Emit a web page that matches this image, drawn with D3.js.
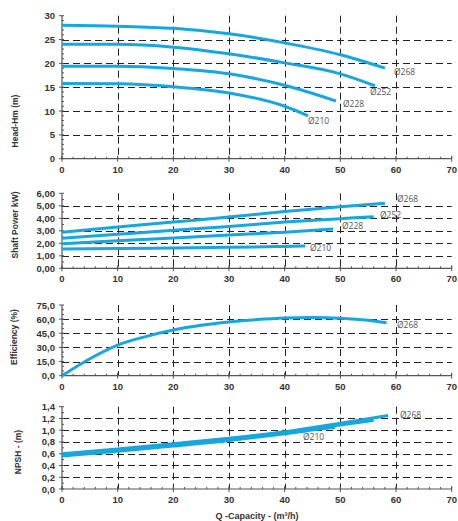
<!DOCTYPE html>
<html>
<head>
<meta charset="UTF-8">
<script src="https://cdn.jsdelivr.net/npm/d3@7"></script>
<style>
  body { margin: 0; background: #fff; }
  .tick-label { font-family: 'Liberation Sans', Arial, sans-serif; font-weight: bold; font-size: 9.5px; fill: #333; }
  .axis-title { font-family: 'Liberation Sans', Arial, sans-serif; font-weight: bold; font-size: 8.5px; fill: #333; }
  .curve-label { font-family: 'Open Sans', sans-serif; font-size: 8.5px; fill: #555; }
</style>
</head>
<body>
<svg id="chart" width="458" height="521"></svg>
<script>
// ---- data ----
var diameters = ["Ø268", "Ø252", "Ø228", "Ø210"];

var headData = [
  [[0, 28], [10, 27.8], [20, 27.35], [30, 26.2], [40, 24.3], [50, 21.8], [58, 19.0]],
  [[0, 24], [10, 24], [20, 23.4], [30, 22.0], [40, 20.1], [50, 17.8], [56.2, 15.3]],
  [[0, 19.4], [10, 19.4], [20, 18.9], [30, 17.8], [40, 15.4], [49.2, 12.1]],
  [[0, 15.8], [10, 15.7], [20, 15.1], [30, 13.8], [40, 11.0], [44.2, 9.0]]
];

var powerData = [
  [[0, 2.88], [10, 3.3], [20, 3.7], [30, 4.1], [40, 4.55], [50, 4.92], [58, 5.2]],
  [[0, 2.4], [10, 2.72], [20, 3.04], [30, 3.35], [40, 3.7], [50, 3.97], [56, 4.13]],
  [[0, 1.97], [10, 2.2], [20, 2.43], [30, 2.66], [40, 2.88], [48.7, 3.14]],
  [[0, 1.54], [10, 1.58], [20, 1.62], [30, 1.68], [40, 1.75], [43.7, 1.78]]
];

var effData = [
  [[0, 0], [5, 18], [10, 32.5], [15, 41.5], [20, 48.5], [25, 53.5], [30, 57], [35, 59.5],
   [40, 61.2], [45, 61.8], [50, 61], [55, 58.8], [58.3, 56.2]]
];

var npshData = [
  [[0, 0.6], [10, 0.68], [20, 0.77], [30, 0.865], [40, 0.975], [50, 1.12], [58.6, 1.25]],
  [[0, 0.587], [10, 0.667], [20, 0.757], [30, 0.852], [40, 0.962], [50, 1.09], [56, 1.17]],
  [[0, 0.573], [10, 0.653], [20, 0.743], [30, 0.838], [40, 0.95], [49, 1.05]],
  [[0, 0.56], [10, 0.64], [20, 0.73], [30, 0.825], [40, 0.94], [44, 0.99]]
];

var qTicks = [0, 10, 20, 30, 40, 50, 60, 70];

// panel layout
var panels = [
  { data: headData, labels: diameters, top: 15.7, bottom: 158.7, domain: [0, 30], step: 5, minor: 1,
    fmt: function(d){ return d3.format("d")(d); }, title: "Head-Hm (m)", titleX: 18, titleY: 121,
    labelPos: [[394, 75], [370, 95], [343, 107], [308, 124]] },
  { data: powerData, labels: diameters, top: 193.3, bottom: 268.3, domain: [0, 6], step: 1, minor: 0.5,
    fmt: function(d){ return d3.format(".2f")(d).replace(".", ","); }, title: "Shaft Power kW)", titleX: 18, titleY: 225,
    labelPos: [[397, 202], [380, 218], [342, 229], [310, 251]] },
  { data: effData, labels: ["Ø268"], top: 305, bottom: 375.7, domain: [0, 75], step: 15, minor: 5,
    fmt: function(d){ return d3.format(".1f")(d).replace(".", ","); }, title: "Efficiency (%)", titleX: 17, titleY: 337,
    labelPos: [[397, 328]] },
  { data: npshData, labels: ["Ø268", "", "", "Ø210"], top: 406.7, bottom: 489, domain: [0, 1.4], step: 0.2, minor: 0.1,
    fmt: function(d){ return d3.format(".1f")(d).replace(".", ","); }, title: "NPSH - (m)", titleX: 21, titleY: 452,
    labelPos: [[400, 418], null, null, [303, 440]] }
];

var svg = d3.select("#chart");
var x = d3.scaleLinear().domain([0, 70]).range([62, 451.7]);
var lineColor = "#17a6df";

panels.forEach(function(p) {
  var y = d3.scaleLinear().domain(p.domain).range([p.bottom, p.top]);
  var g = svg.append("g");
  var n = Math.round((p.domain[1] - p.domain[0]) / p.step);
  var yTicks = d3.range(n + 1).map(function(i){ return +(i * p.step).toFixed(3); });
  var nMinor = Math.round((p.domain[1] - p.domain[0]) / p.minor);
  var yMinor = d3.range(nMinor + 1).map(function(i){ return i * p.minor; });
  var xMinor = d3.range(0, 71, 2);

  // grid
  g.selectAll(".hgrid").data(yTicks.slice(1, -1)).enter().append("line")
    .attr("x1", x(0)).attr("x2", x(70))
    .attr("y1", function(d){ return Math.round(y(d)) + 0.5; })
    .attr("y2", function(d){ return Math.round(y(d)) + 0.5; })
    .attr("stroke", "#222").attr("stroke-width", 1).attr("stroke-dasharray", "7,4");
  g.selectAll(".vgrid").data(qTicks.slice(1, -1)).enter().append("line")
    .attr("x1", function(d){ return Math.round(x(d)) + 0.5; })
    .attr("x2", function(d){ return Math.round(x(d)) + 0.5; })
    .attr("y1", p.top).attr("y2", p.bottom)
    .attr("stroke", "#222").attr("stroke-width", 1).attr("stroke-dasharray", "7,4");

  // axes
  g.append("line").attr("x1", x(0)).attr("x2", x(0)).attr("y1", p.top).attr("y2", p.bottom)
    .attr("stroke", "#555").attr("stroke-width", 1.2);
  g.append("line").attr("x1", x(0)).attr("x2", x(70)).attr("y1", p.bottom).attr("y2", p.bottom)
    .attr("stroke", "#555").attr("stroke-width", 1.2);

  g.selectAll(".ymaj").data(yTicks).enter().append("line")
    .attr("x1", x(0) - 3).attr("x2", x(0))
    .attr("y1", function(d){ return y(d); }).attr("y2", function(d){ return y(d); })
    .attr("stroke", "#555");
  g.selectAll(".ymin").data(yMinor).enter().append("line")
    .attr("x1", x(0)).attr("x2", x(0) + 2)
    .attr("y1", function(d){ return y(d); }).attr("y2", function(d){ return y(d); })
    .attr("stroke", "#555");
  g.selectAll(".xmaj").data(qTicks).enter().append("line")
    .attr("x1", function(d){ return x(d); }).attr("x2", function(d){ return x(d); })
    .attr("y1", p.bottom - 3).attr("y2", p.bottom + 3)
    .attr("stroke", "#555");
  g.selectAll(".xmin").data(xMinor).enter().append("line")
    .attr("x1", function(d){ return x(d); }).attr("x2", function(d){ return x(d); })
    .attr("y1", p.bottom - 2).attr("y2", p.bottom)
    .attr("stroke", "#555");

  g.selectAll(".ylab").data(yTicks).enter().append("text")
    .attr("class", "tick-label")
    .attr("x", x(0) - 7).attr("y", function(d){ return y(d) + 3.5; })
    .attr("text-anchor", "end")
    .text(p.fmt);
  g.selectAll(".xlab").data(qTicks).enter().append("text")
    .attr("class", "tick-label")
    .attr("x", function(d){ return x(d); }).attr("y", p.bottom + 14)
    .attr("text-anchor", "middle")
    .text(function(d){ return d; });

  g.append("text").attr("class", "axis-title")
    .attr("transform", "translate(" + p.titleX + "," + p.titleY + ") rotate(-90)")
    .attr("text-anchor", "middle")
    .text(p.title);

  // curves
  var line = d3.line()
    .x(function(d){ return x(d[0]); })
    .y(function(d){ return y(d[1]); })
    .curve(d3.curveMonotoneX);
  g.selectAll(".curve").data(p.data).enter().append("path")
    .attr("d", line)
    .attr("fill", "none")
    .attr("stroke", lineColor)
    .attr("stroke-width", 3)
    .attr("stroke-linecap", "butt");

  p.labels.forEach(function(lab, i) {
    if (!lab || !p.labelPos[i]) return;
    g.append("text").attr("class", "curve-label")
      .attr("x", p.labelPos[i][0]).attr("y", p.labelPos[i][1])
      .text(lab);
  });
});

svg.append("text").attr("class", "axis-title")
  .style("font-size", "9px")
  .attr("x", 257).attr("y", 519)
  .attr("text-anchor", "middle")
  .text("Q -Capacity - (m³/h)");
</script>
</body>
</html>
